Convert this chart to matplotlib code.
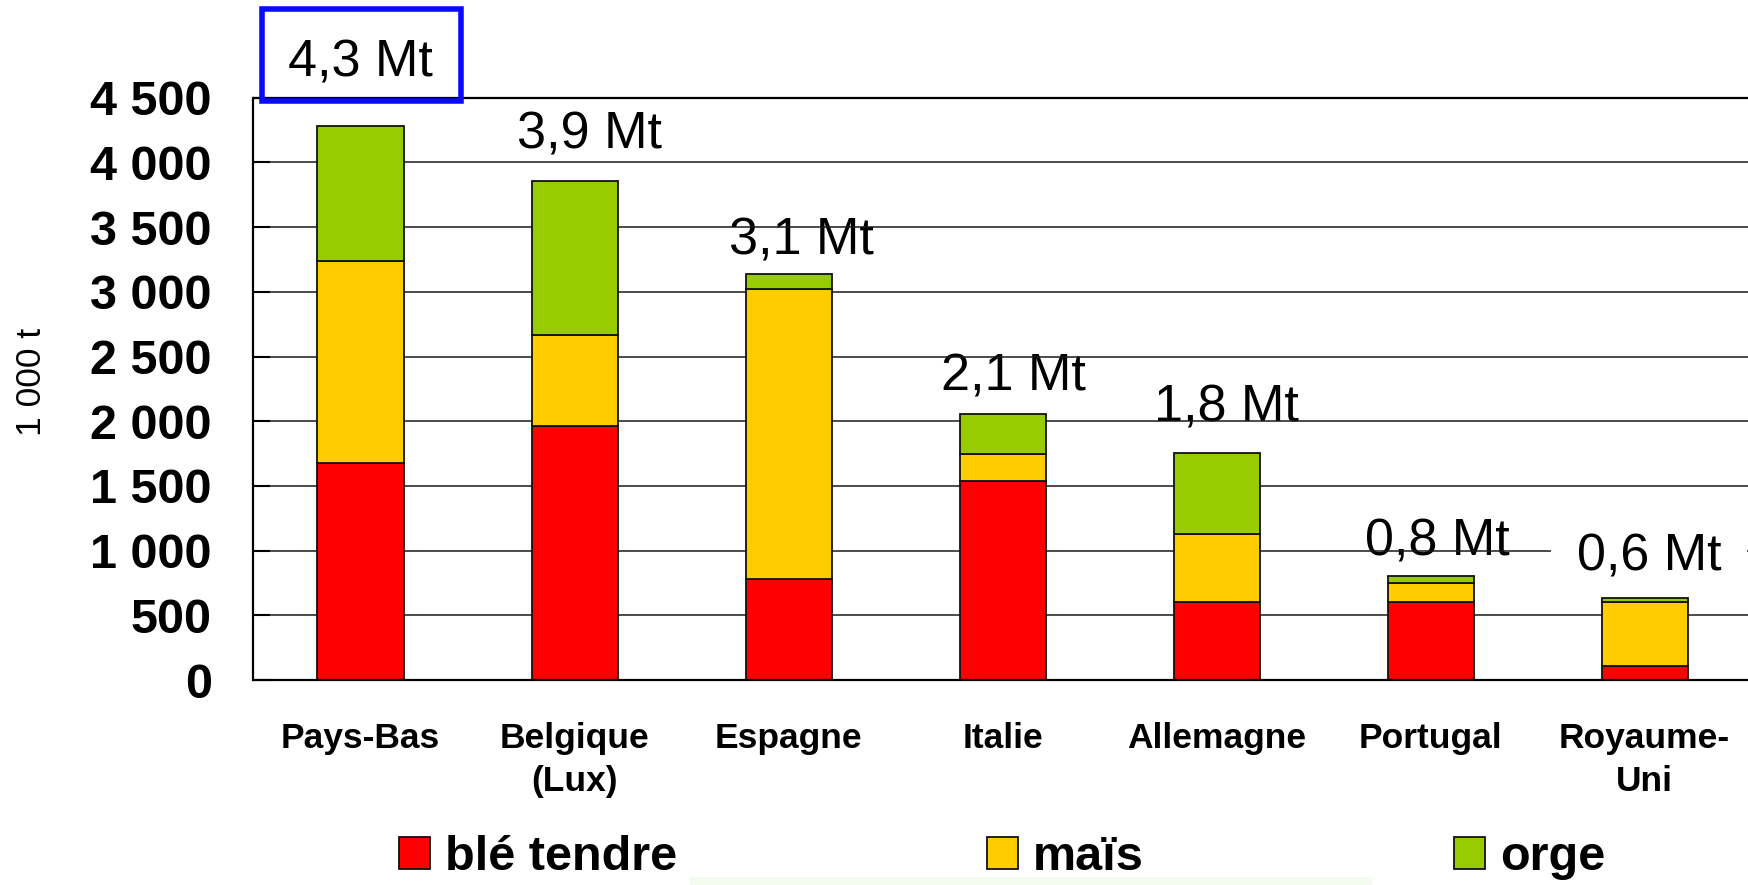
import matplotlib
matplotlib.use("Agg")
import matplotlib.pyplot as plt
from matplotlib.patches import Rectangle

# ---------------- data ----------------
countries = ["Pays-Bas", "Belgique\n(Lux)", "Espagne", "Italie", "Allemagne",
             "Portugal", "Royaume-\nUni"]
ble_tendre = [1680, 1960, 780, 1540, 600, 600, 105]
mais = [1560, 710, 2245, 205, 525, 150, 495]
orge = [1040, 1190, 112, 310, 630, 50, 34]
series_names = ["blé tendre", "maïs", "orge"]
yticks = [0, 500, 1000, 1500, 2000, 2500, 3000, 3500, 4000, 4500]
ytick_labels = ["0", "500", "1 000", "1 500", "2 000", "2 500", "3 000",
                "3 500", "4 000", "4 500"]

# ---------------- style ----------------
colors = ["#FF0000", "#FFCC00", "#99CC00"]
FONT = "Liberation Sans"
plt.rcParams["font.family"] = [FONT, "DejaVu Sans"]

W, H = 1749, 885
fig = plt.figure(figsize=(W / 100, H / 100), dpi=100)
ax_left, ax_right, ax_top, ax_bottom = 253.5, 1751.6, 97.7, 680.0
ax = fig.add_axes([ax_left / W, 1 - ax_bottom / H,
                   (ax_right - ax_left) / W, (ax_bottom - ax_top) / H])

x = list(range(len(countries)))
bottoms = [0] * len(countries)
handles = []
for vals, col in zip([ble_tendre, mais, orge], colors):
    bc = ax.bar(x, vals, width=0.402, bottom=bottoms, color=col,
                edgecolor="#111111", linewidth=1.3, zorder=2)
    handles.append(bc)
    bottoms = [b + v for b, v in zip(bottoms, vals)]
totals = bottoms

ax.set_xlim(-0.5, len(countries) - 0.5)
ax.set_ylim(0, 4500)
ax.set_axisbelow(True)
ax.yaxis.grid(True, color="#1a1a1a", linewidth=1.1)
ax.set_yticks(yticks)
ax.set_yticklabels(ytick_labels, fontsize=35, fontweight="bold")
ax.tick_params(axis="y", direction="in", length=12, width=1.5, pad=30)
ax.set_xticks(x)
ax.set_xticklabels(countries, fontsize=25.5, fontweight="bold", linespacing=1.4)
ax.tick_params(axis="x", length=0, pad=30)
for s in ["left", "bottom", "top"]:
    ax.spines[s].set_linewidth(1.6)
    ax.spines[s].set_color("black")
ax.spines["right"].set_visible(False)

# total labels (offsets in pixels: dx, baseline above bar top)
label_offsets = [(0, 49.4), (14.5, 32.2), (12.5, 20), (10.4, 23.4),
                 (9.9, 31.9), (6.6, 20.5), (4.3, 27.3)]
for i, (t, (dx, dy)) in enumerate(zip(totals, label_offsets)):
    txt = f"{t / 1000:.1f}".replace(".", ",") + " Mt"
    kw = {}
    z = 0.3
    if i == len(totals) - 1:
        kw["bbox"] = dict(facecolor="white", edgecolor="none",
                          boxstyle="square,pad=0.5")
        z = 1
    ax.annotate(txt, xy=(i, t), xytext=(dx, dy), textcoords="offset pixels",
                ha="center", va="baseline", fontsize=37.5, zorder=z,
                annotation_clip=False, **kw)

# blue frame around the first label
fig.patches.append(Rectangle((262 / W, 1 - 101 / H), 199 / W, 92 / H,
                             transform=fig.transFigure, fill=False,
                             edgecolor="#0a0aff", linewidth=4, zorder=5))

# faint strip at bottom
fig.patches.append(Rectangle((690 / W, 0), 682 / W, 8 / H,
                             transform=fig.transFigure, facecolor="#f4fbef",
                             edgecolor="none", zorder=0))

# y label
fig.text(31.7 / W, 1 - 382 / H, "1 000 t", rotation=90, ha="center",
         va="center", fontsize=25.5)

# legend
fig.legend(handles, series_names, loc="center",
           bbox_to_anchor=(399 / W, 1 - 880 / H, (1605 - 399) / W, 44 / H),
           ncol=3, mode="expand", frameon=False,
           prop={"family": FONT, "weight": "bold", "size": 35},
           handlelength=0.64, handleheight=0.64, handletextpad=0.3,
           borderpad=0, borderaxespad=0)

fig.savefig("out.png", dpi=100)
